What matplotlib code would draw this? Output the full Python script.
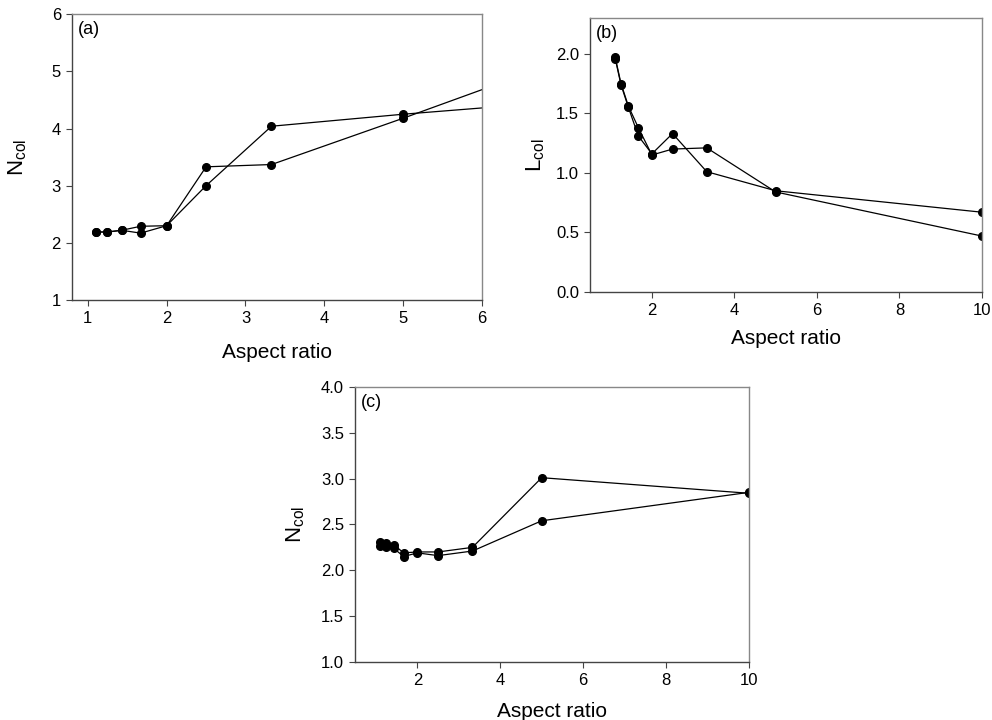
import matplotlib
matplotlib.use("Agg")
import matplotlib.pyplot as plt

plt.rcParams['font.family'] = ['Liberation Sans', 'DejaVu Sans']
plt.rcParams['mathtext.fontset'] = 'custom'
plt.rcParams['mathtext.rm'] = 'Liberation Sans'
plt.rcParams['mathtext.it'] = 'Liberation Sans'

# aspect ratios (10/9 ... 10/1)
aspect = [1.11, 1.25, 1.43, 1.67, 2.0, 2.5, 3.33, 5.0, 10.0]

# panel (a): Ncol
a_line1 = [2.19, 2.19, 2.22, 2.29, 2.30, 3.33, 3.37, 4.18, 6.68]
a_line2 = [2.19, 2.19, 2.22, 2.17, 2.30, 3.00, 4.04, 4.25, 4.80]

# panel (b): Lcol
b_line1 = [1.97, 1.75, 1.56, 1.38, 1.15, 1.20, 1.21, 0.84, 0.47]
b_line2 = [1.96, 1.74, 1.55, 1.31, 1.16, 1.33, 1.01, 0.85, 0.67]

# panel (c): Ncol
c_line1 = [2.31, 2.30, 2.28, 2.19, 2.20, 2.20, 2.25, 3.01, 2.84]
c_line2 = [2.27, 2.25, 2.24, 2.15, 2.19, 2.16, 2.21, 2.54, 2.85]

fig = plt.figure(figsize=(9.92, 7.2), dpi=100)
ax_a = fig.add_axes([0.0726, 0.5833, 0.4133, 0.397])
ax_b = fig.add_axes([0.5948, 0.5944, 0.395, 0.3806])
ax_c = fig.add_axes([0.358, 0.0806, 0.397, 0.382])

def style(ax):
    for s in ['left', 'bottom']:
        ax.spines[s].set_color('#444444')
    for s in ['top', 'right']:
        ax.spines[s].set_color('#888888')
    for s in ax.spines.values():
        s.set_linewidth(1.0)
    ax.tick_params(direction='out', length=4, width=0.8, color='#444444',
                   labelsize=12, pad=4)

def draw(ax, y1, y2):
    for y in (y1, y2):
        ax.plot(aspect, y, color='black', linewidth=0.9, marker='o',
                markersize=5.5, markerfacecolor='black', markeredgecolor='black')

draw(ax_a, a_line1, a_line2)
ax_a.set_xlim(0.8, 6)
ax_a.set_ylim(1, 6)
ax_a.set_xticks([1, 2, 3, 4, 5, 6])
ax_a.set_yticks([1, 2, 3, 4, 5, 6])
ax_a.set_xlabel('Aspect ratio', fontsize=15, labelpad=12)
ax_a.set_ylabel(r'$\mathregular{N_{col}}$', fontsize=16, labelpad=16)
ax_a.text(0.015, 0.975, '(a)', transform=ax_a.transAxes, fontsize=13,
          ha='left', va='top')
style(ax_a)

draw(ax_b, b_line1, b_line2)
ax_b.set_xlim(0.5, 10)
ax_b.set_ylim(0, 2.3)
ax_b.set_xticks([2, 4, 6, 8, 10])
ax_b.set_yticks([0.0, 0.5, 1.0, 1.5, 2.0])
ax_b.set_yticklabels(['0.0', '0.5', '1.0', '1.5', '2.0'])
ax_b.set_xlabel('Aspect ratio', fontsize=15, labelpad=8)
ax_b.set_ylabel(r'$\mathregular{L_{col}}$', fontsize=16, labelpad=6)
ax_b.text(0.015, 0.975, '(b)', transform=ax_b.transAxes, fontsize=13,
          ha='left', va='top')
style(ax_b)

draw(ax_c, c_line1, c_line2)
ax_c.set_xlim(0.5, 10)
ax_c.set_ylim(1, 4)
ax_c.set_xticks([2, 4, 6, 8, 10])
ax_c.set_yticks([1.0, 1.5, 2.0, 2.5, 3.0, 3.5, 4.0])
ax_c.set_yticklabels(['1.0', '1.5', '2.0', '2.5', '3.0', '3.5', '4.0'])
ax_c.set_xlabel('Aspect ratio', fontsize=15, labelpad=10)
ax_c.set_ylabel(r'$\mathregular{N_{col}}$', fontsize=16, labelpad=10)
ax_c.text(0.015, 0.975, '(c)', transform=ax_c.transAxes, fontsize=13,
          ha='left', va='top')
style(ax_c)

fig.savefig('out.png', dpi=100)
